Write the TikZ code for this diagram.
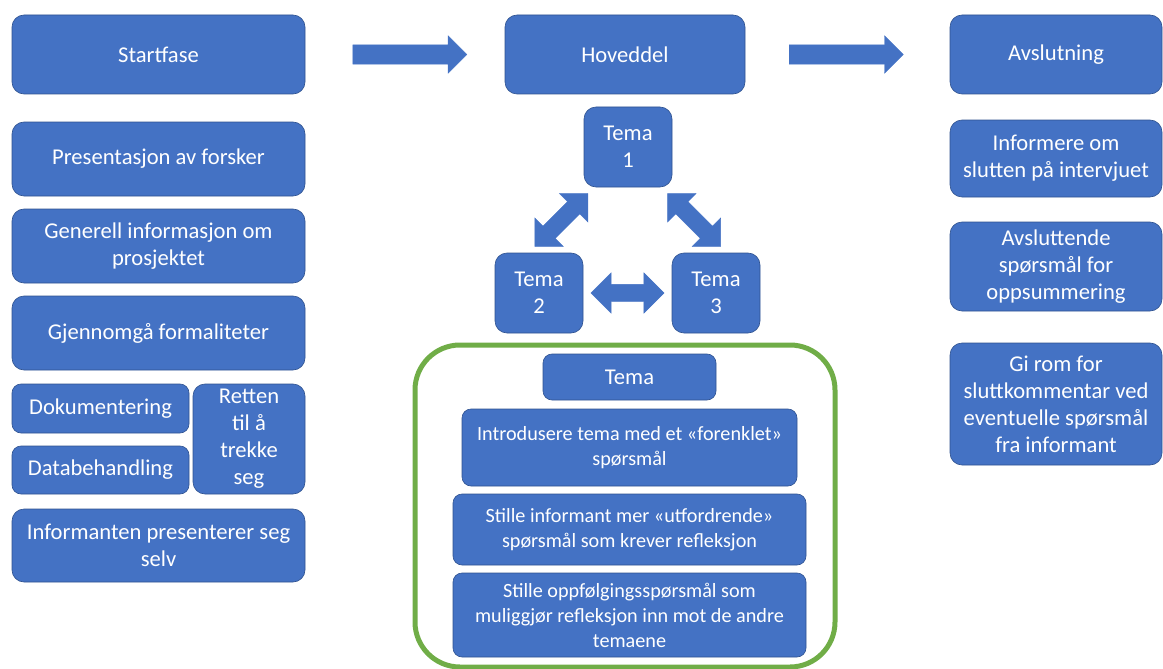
\documentclass[tikz,border=0pt]{standalone}
\usepackage{fontspec}
\setmainfont{Carlito}
\usepackage{tikz}
\usetikzlibrary{shapes.arrows,calc}
\usepackage{xcolor}
\definecolor{blaa}{RGB}{68,114,196}
\definecolor{blaakant}{RGB}{47,82,143}
\definecolor{gronn}{RGB}{112,173,71}

\begin{document}
\begin{tikzpicture}
    [
        x=1pt, y=-1pt,
        boks/.style={rectangle, rounded corners=12, fill=blaa, draw=blaakant, line width=0.6,
            text=white, align=center, inner sep=0, font=\fontsize{22.6}{27}\selectfont},
        liten/.style={boks, rounded corners=9, font=\fontsize{20.2}{25}\selectfont},
        pil/.style={single arrow, fill=blaa, draw=blaa, line width=0.4, inner xsep=0,
            inner ysep=9.5, single arrow head extend=9, single arrow tip angle=90,
            minimum height=114},
        dobbelpil/.style={double arrow, fill=blaa, draw=blaa, line width=0.4, inner xsep=0,
            inner ysep=8.5, double arrow head extend=11.5, double arrow tip angle=90},
    ]
\useasboundingbox (0,0) rectangle (1163,669);

% overskrifter
\node[boks, minimum width=293, minimum height=79] (start) at (158.5,54.5) {Startfase};
\node[boks, minimum width=240, minimum height=79] (hoved) at (625,54.5) {Hoveddel};
\node[boks, minimum width=212, minimum height=79] (avsl) at (1056,54.5) {Avslutning};

\node[pil] (pil1) at ($(start.east)!0.5!(hoved.west)$) {};
\node[pil] (pil2) at ($(hoved.east)!0.47!(avsl.west)$) {};

% startfase
\foreach \navn/\y/\tekst in {pres/159/{Presentasjon av forsker},
    gen/246/{Generell informasjon om\\prosjektet},
    gjen/333/{Gjennomgå formaliteter}}
{
    \node[boks, minimum width=293, minimum height=74] (\navn) at (158.5,\y) {\tekst};
}
\node[boks, rounded corners=9, minimum width=177, minimum height=49] (dok) at (100.5,408.5) {Dokumentering};
\node[boks, rounded corners=9, minimum width=177, minimum height=48] (data) at (100.5,470) {Databehandling};
\node[boks, minimum width=112, minimum height=110] (rett) at (249,439) {Retten\\til å\\trekke\\seg};
\node[boks, minimum width=293, minimum height=73] (infp) at (158.5,545.5) {Informanten presenterer seg\\selv};

% hoveddel
\node[boks, minimum width=88, minimum height=80] (tema1) at (628,147) {Tema\\1};
\node[boks, minimum width=88, minimum height=80] (tema2) at (539,293) {Tema\\2};
\node[boks, minimum width=88, minimum height=80] (tema3) at (716,293) {Tema\\3};

\node[dobbelpil, minimum height=75, rotate=45] (pil12) at ($(tema2.north)!0.5!(tema1.south west)$) {};
\node[dobbelpil, minimum height=75, rotate=-45] (pil13) at ($(tema3.north)!0.5!(tema1.south east)$) {};
\node[dobbelpil, minimum height=73] (pil23) at ($(tema2.east)!0.5!(tema3.west)$) {};

\node[rectangle, draw=gronn, line width=5, rounded corners=45, minimum width=420,
    minimum height=322] (ramme) at (625,506) {};
\node[boks, rounded corners=9, minimum width=173, minimum height=46] (tema) at (629.5,377) {Tema};
\node[liten, minimum width=335, minimum height=77] (intro) at (629.5,447.5)
    {Introdusere tema med et «forenklet»\\spørsmål};
\node[liten, minimum width=353, minimum height=71] (utf) at (629.5,529.5)
    {Stille informant mer «utfordrende»\\spørsmål som krever refleksjon};
\node[liten, minimum width=353, minimum height=84] (oppf) at (629.5,615)
    {Stille oppfølgingsspørsmål som\\muliggjør refleksjon inn mot de andre\\temaene};

% avslutning
\node[boks, minimum width=212, minimum height=77] (infs) at (1056,158.5) {Informere om\\slutten på intervjuet};
\node[boks, minimum width=212, minimum height=89] (avspm) at (1056,266.5) {Avsluttende\\spørsmål for\\oppsummering};
\node[boks, minimum width=212, minimum height=122] (rom) at (1056,404) {Gi rom for\\sluttkommentar ved\\eventuelle spørsmål\\fra informant};
\end{tikzpicture}
\end{document}
